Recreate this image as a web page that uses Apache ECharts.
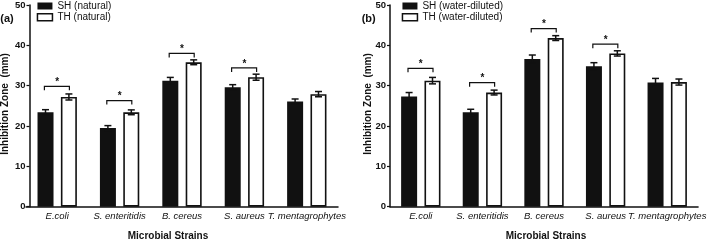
<!DOCTYPE html>
<html>
<head>
<meta charset="utf-8">
<script src="https://cdn.jsdelivr.net/npm/echarts@6/dist/echarts.min.js"></script>
<style>
  html, body { margin: 0; padding: 0; background: #fff; }
  #main { width: 709px; height: 241px; }
</style>
</head>
<body>
<div id="main"></div>
<script>
// 菌种
var strains = ['E.coli', 'S. enteritidis', 'B. cereus', 'S. aureus', 'T. mentagrophytes'];
var yTicks = [0, 10, 20, 30, 40, 50];

// (a) natural
var shNatural = [23.4, 19.5, 31.25, 29.6, 26.1];
var shNaturalErr = [0.65, 0.6, 0.8, 0.65, 0.6];
var thNatural = [27.2, 23.4, 35.8, 32.1, 27.9];
var thNaturalErr = [0.75, 0.6, 0.6, 0.75, 0.65];
var sigNatural = [29.85, 26.3, 38.0, 34.4, null];

// (b) water-diluted
var shDiluted = [27.3, 23.4, 36.6, 34.8, 30.8];
var shDilutedErr = [1.0, 0.75, 1.0, 0.9, 1.0];
var thDiluted = [31.25, 28.3, 41.8, 38.0, 30.9];
var thDilutedErr = [0.8, 0.6, 0.6, 0.65, 0.75];
var sigDiluted = [34.3, 30.75, 44.15, 40.3, null];

var FONT = 'Liberation Sans, Arial, sans-serif';
var INK = '#111';
var BAR_W = 16;
var HALF = 11.7; // 柱中心到类目中心

function errData(sh, shErr, th, thErr) {
    var out = [];
    for (var i = 0; i < sh.length; i++) {
        out.push([i, sh[i], shErr[i], -1]);
        out.push([i, th[i], thErr[i], 1]);
    }
    return out;
}
function sigData(sig) {
    var out = [];
    for (var i = 0; i < sig.length; i++) {
        if (sig[i] != null) out.push([i, sig[i]]);
    }
    return out;
}

function renderErr(params, api) {
    var cat = api.value(0), v = api.value(1), e = api.value(2), side = api.value(3);
    var x = api.coord([cat, v])[0] + side * HALF;
    var yt = api.coord([cat, v + e])[1];
    var yb = api.coord([cat, v - e])[1];
    var st = { stroke: INK, lineWidth: 1.5 };
    return {
        type: 'group',
        children: [
            { type: 'line', shape: { x1: x, y1: yt, x2: x, y2: yb }, style: st },
            { type: 'line', shape: { x1: x - 3.5, y1: yt, x2: x + 3.5, y2: yt }, style: st },
            { type: 'line', shape: { x1: x - 3.5, y1: yb, x2: x + 3.5, y2: yb }, style: st }
        ]
    };
}

function renderSig(params, api) {
    var p = api.coord([api.value(0), api.value(1)]);
    var x1 = p[0] - 12.8, x2 = p[0] + 12.2, y = p[1];
    return {
        type: 'group',
        children: [
            { type: 'polyline', shape: { points: [[x1, y + 4], [x1, y], [x2, y], [x2, y + 4]] },
              style: { stroke: INK, lineWidth: 1.2, fill: 'none' } },
            { type: 'text', style: { x: p[0], y: y - 4, text: '*', fill: INK, font: 'bold 10px ' + FONT, align: 'center', verticalAlign: 'middle' } }
        ]
    };
}

function xAxisCfg(idx) {
    return {
        type: 'category', gridIndex: idx, data: strains,
        axisLine: { lineStyle: { color: INK, width: 1.5 } },
        axisTick: { alignWithLabel: true, length: 3, lineStyle: { color: INK, width: 1.2 } },
        axisLabel: { interval: 0, fontFamily: FONT, fontSize: 9.5, fontStyle: 'italic', color: INK, margin: 5 }
    };
}
function yAxisCfg(idx, off) {
    return {
        type: 'value', gridIndex: idx, min: yTicks[0], max: yTicks[yTicks.length - 1], interval: 10, offset: off,
        splitLine: { show: false },
        axisLine: { show: true, lineStyle: { color: INK, width: 1.5 } },
        axisTick: { show: true, length: 3, lineStyle: { color: INK, width: 1.2 } },
        axisLabel: { fontFamily: FONT, fontSize: 9.5, fontWeight: 'bold', color: INK, margin: 4 }
    };
}
function legendCfg(left, shName, thName) {
    return {
        orient: 'vertical', left: left, top: 1, padding: 0, itemWidth: 15, itemHeight: 7, itemGap: 1.3,
        icon: 'rect',
        textStyle: { fontFamily: FONT, fontSize: 10, color: INK, lineHeight: 10 },
        data: [
            { name: shName, itemStyle: { color: INK, borderWidth: 0 } },
            { name: thName, itemStyle: { color: '#fff', borderColor: INK, borderWidth: 1.5 } }
        ]
    };
}
function barPair(idx, shName, sh, thName, th) {
    return [
        { name: shName, type: 'bar', xAxisIndex: idx, yAxisIndex: idx, data: sh,
          barWidth: BAR_W, barGap: '46%', itemStyle: { color: INK } },
        { name: thName, type: 'bar', xAxisIndex: idx, yAxisIndex: idx, data: th,
          barWidth: BAR_W, barGap: '46%', itemStyle: { color: '#fff', borderColor: INK, borderWidth: 1.6 } }
    ];
}

var myChart = echarts.init(document.getElementById('main'), null, { renderer: 'canvas' });

var series = []
    .concat(barPair(0, 'SH (natural)', shNatural, 'TH (natural)', thNatural))
    .concat(barPair(1, 'SH (water-diluted)', shDiluted, 'TH (water-diluted)', thDiluted));
series.push({ type: 'custom', xAxisIndex: 0, yAxisIndex: 0, z: 5, renderItem: renderErr,
    data: errData(shNatural, shNaturalErr, thNatural, thNaturalErr) });
series.push({ type: 'custom', xAxisIndex: 1, yAxisIndex: 1, z: 5, renderItem: renderErr,
    data: errData(shDiluted, shDilutedErr, thDiluted, thDilutedErr) });
series.push({ type: 'custom', xAxisIndex: 0, yAxisIndex: 0, z: 5, renderItem: renderSig, data: sigData(sigNatural) });
series.push({ type: 'custom', xAxisIndex: 1, yAxisIndex: 1, z: 5, renderItem: renderSig, data: sigData(sigDiluted) });

var titleText = function (x, y, text, size, rot) {
    return {
        type: 'text', x: x, y: y, rotation: rot || 0,
        style: { text: text, font: 'bold ' + size + 'px ' + FONT, fill: INK, align: 'center', verticalAlign: 'middle' }
    };
};

var option = {
    animation: false,
    backgroundColor: '#fff',
    grid: [
        { left: 26, top: 4, width: 312, height: 202.7 },
        { left: 390, top: 4, width: 312, height: 202.7 }
    ],
    xAxis: [xAxisCfg(0), xAxisCfg(1)],
    yAxis: [yAxisCfg(0, -3.5), yAxisCfg(1, 0)],
    legend: [
        legendCfg(36.7, 'SH (natural)', 'TH (natural)'),
        legendCfg(401.7, 'SH (water-diluted)', 'TH (water-diluted)')
    ],
    graphic: [
        titleText(7, 19.3, '(a)', 11),
        titleText(368.7, 19, '(b)', 11),
        titleText(5.5, 104, 'Inhibition Zone  (mm)', 10, Math.PI / 2),
        titleText(368, 104, 'Inhibition Zone  (mm)', 10, Math.PI / 2),
        titleText(168, 236.5, 'Microbial Strains', 10),
        titleText(546, 236.5, 'Microbial Strains', 10)
    ],
    series: series
};
myChart.setOption(option);
</script>
</body>
</html>
